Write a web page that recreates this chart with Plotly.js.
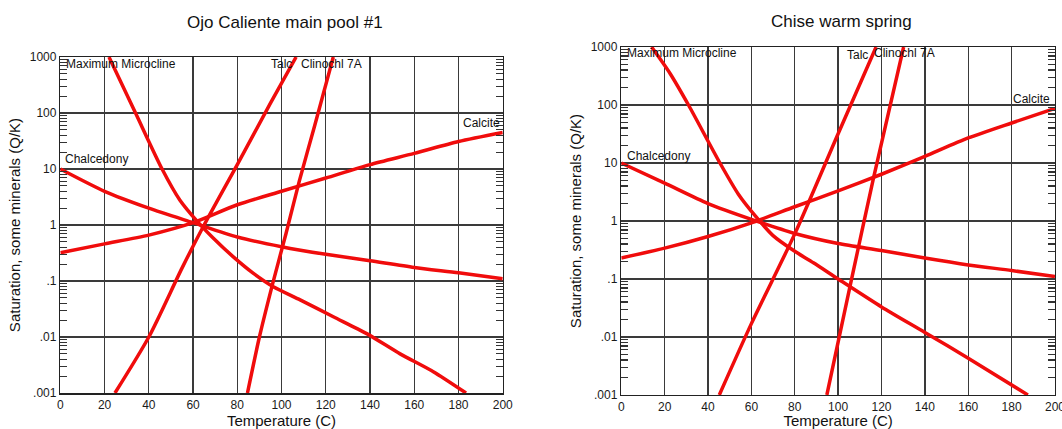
<!DOCTYPE html>
<html>
<head>
<meta charset="utf-8">
<script src="https://cdn.plot.ly/plotly-3.0.1.min.js"></script>
<style>html,body{margin:0;padding:0;background:#fff;}#chart{width:1062px;height:429px;}</style>
</head>
<body>
<div id="chart"></div>
<script>
// ---- Ojo Caliente main pool #1 ----
const pool_micro_T = [22, 34, 46, 54, 62, 69.2, 78.2, 87.3, 96.3, 108.4, 123.4, 138.5, 153.6, 168.6, 183.4];
const pool_micro_Q = [1000, 100, 10, 2.8, 1.15, 0.58, 0.27, 0.137, 0.079, 0.046, 0.023, 0.0115, 0.005, 0.0024, 0.001];
const pool_chalc_T = [0, 20, 40, 60, 80, 100, 120, 140, 160, 180, 200];
const pool_chalc_Q = [10, 4.0, 2.0, 1.1, 0.61, 0.41, 0.30, 0.23, 0.175, 0.14, 0.11];
const pool_calc_T = [0, 20, 40, 60, 80, 100, 120, 140, 160, 180, 200];
const pool_calc_Q = [0.32, 0.46, 0.66, 1.1, 2.3, 4.0, 6.9, 12, 19, 31, 45];
const pool_talc_T = [24.7, 40, 55, 65, 80, 95, 106.6];
const pool_talc_Q = [0.001, 0.01, 0.17, 1, 12, 150, 1000];
const pool_clino_T = [84.6, 90, 96, 102, 108, 115, 123.4];
const pool_clino_Q = [0.001, 0.01, 0.09, 0.7, 6, 60, 1000];

// ---- Chise warm spring ----
const chise_micro_T = [14, 22.5, 31, 45.5, 54, 62, 70, 80, 88.6, 100, 120, 140, 160, 187.5];
const chise_micro_Q = [1000, 350, 100, 10, 2.9, 1.2, 0.56, 0.30, 0.19, 0.10, 0.033, 0.012, 0.0043, 0.001];
const chise_chalc_T = [0, 20, 40, 60, 80, 100, 120, 140, 160, 180, 200];
const chise_chalc_Q = [10, 4.5, 2.0, 1.07, 0.61, 0.41, 0.31, 0.23, 0.175, 0.14, 0.11];
const chise_calc_T = [0, 20, 40, 60, 80, 100, 120, 140, 160, 180, 200];
const chise_calc_Q = [0.23, 0.34, 0.54, 0.93, 1.76, 3.3, 6.4, 13, 27, 49, 87];
const chise_talc_T = [45.2, 60, 80, 100, 117.5];
const chise_talc_Q = [0.001, 0.017, 0.6, 32, 1000];
const chise_clino_T = [94.8, 105.5, 116.3, 130.2];
const chise_clino_Q = [0.001, 0.075, 5.5, 1000];

// y tick labels: default log labels -> displayed text
const yLabelAlias = {'0.001': '.001', '0.01': '.01', '0.1': '.1'};
const xTickVals = [0, 20, 40, 60, 80, 100, 120, 140, 160, 180, 200];

const titles = ['Ojo Caliente main pool #1', 'Chise warm spring'];

// minor log tick positions (2..9 in every decade)
const minorVals = [];
for (let d = -3; d < 3; d++) for (let k = 2; k <= 9; k++) minorVals.push(k * Math.pow(10, d));

const RED = 'rgb(240,12,12)';
function tr(x, y, xa, ya) {
  return {x: x, y: y, xaxis: xa, yaxis: ya, mode: 'lines', type: 'scatter',
          line: {color: RED, width: 3.5, shape: 'spline', smoothing: 0.7}, hoverinfo: 'skip', showlegend: false};
}
const data = [
  tr(pool_micro_T, pool_micro_Q, 'x', 'y'),
  tr(pool_chalc_T, pool_chalc_Q, 'x', 'y'),
  tr(pool_calc_T, pool_calc_Q, 'x', 'y3'),
  tr(pool_talc_T, pool_talc_Q, 'x', 'y'),
  tr(pool_clino_T, pool_clino_Q, 'x', 'y'),
  tr(chise_micro_T, chise_micro_Q, 'x2', 'y2'),
  tr(chise_chalc_T, chise_chalc_Q, 'x2', 'y2'),
  tr(chise_calc_T, chise_calc_Q, 'x2', 'y4'),
  tr(chise_talc_T, chise_talc_Q, 'x2', 'y2'),
  tr(chise_clino_T, chise_clino_Q, 'x2', 'y2')
];

const FONT = 'Arial, "Liberation Sans", sans-serif';
function xax(domain, anchor) {
  return {domain: domain, anchor: anchor, range: [0, 200], tickmode: 'array', tickvals: xTickVals,
    showgrid: true, gridcolor: '#3a3a3a', gridwidth: 1.3, showline: true, linecolor: '#222', linewidth: 1.5,
    mirror: true, ticks: '', zeroline: false, ticklabeloverflow: 'allow',
    tickfont: {family: FONT, size: 12, color: '#1a1a1a'},
    title: {text: 'Temperature (C)', font: {family: FONT, size: 15, color: '#111'}}};
}
function yax(domain, anchor) {
  return {domain: domain, anchor: anchor, type: 'log', range: [-3, 3], tickmode: 'linear', tick0: 0, dtick: 1,
    exponentformat: 'none', labelalias: yLabelAlias,
    showgrid: true, gridcolor: '#3a3a3a', gridwidth: 1.3, showline: true, linecolor: '#222', linewidth: 1.5,
    mirror: true, ticks: '', zeroline: false, ticklabeloverflow: 'allow',
    tickfont: {family: FONT, size: 12, color: '#1a1a1a'},
    title: {text: 'Saturation, some minerals (Q/K)', font: {family: FONT, size: 15, color: '#111'}}};
}
function yminor(overlay, anchor) {
  return {overlaying: overlay, anchor: anchor, side: 'left', type: 'log', range: [-3, 3], tickmode: 'array', tickvals: minorVals,
    ticktext: minorVals.map(() => ''), showticklabels: true,
    ticks: 'inside', ticklen: 7, tickwidth: 1.2, tickcolor: '#333',
    showgrid: false, zeroline: false, showline: true, linecolor: '#222', linewidth: 1.5, mirror: 'allticks'};
}

function ann(text, x, y, xr, yr, xanchor) {
  return {text: text, x: x, y: y, xref: xr, yref: yr, xanchor: xanchor || 'left', yanchor: 'middle',
          showarrow: false, font: {family: FONT, size: 12, color: '#111'}};
}
const annotations = [
  {text: titles[0], x: 0.2684, y: 0.9464, xref: 'paper', yref: 'paper', xanchor: 'center', yanchor: 'middle', showarrow: false,
   font: {family: FONT, size: 17, color: '#111'}},
  {text: titles[1], x: 0.7928, y: 0.9499, xref: 'paper', yref: 'paper', xanchor: 'center', yanchor: 'middle', showarrow: false,
   font: {family: FONT, size: 17, color: '#111'}},
  ann('Maximum Microcline', 1.7, 2.88, 'x', 'y'),
  ann('Talc', 94.4, 2.88, 'x', 'y'),
  ann('Clinochl 7A', 107.9, 2.88, 'x', 'y'),
  ann('Calcite', 199.5, 1.82, 'x', 'y', 'right'),
  ann('Chalcedony', 1.2, 1.18, 'x', 'y'),
  ann('Maximum Microcline', 1.7, 2.89, 'x2', 'y2'),
  ann('Talc', 103.2, 2.86, 'x2', 'y2'),
  ann('Clinochl 7A', 115.7, 2.89, 'x2', 'y2'),
  ann('Calcite', 198.5, 2.10, 'x2', 'y2', 'right'),
  ann('Chalcedony', 1.7, 1.12, 'x2', 'y2')
];

const layout = {
  width: 1062, height: 429,
  margin: {l: 0, r: 0, t: 0, b: 0},
  paper_bgcolor: '#fff', plot_bgcolor: '#fff',
  showlegend: false,
  xaxis: xax([0.0568, 0.4734], 'y'),
  yaxis: yax([0.0839, 0.8671], 'x'),
  xaxis2: xax([0.5850, 0.9934], 'y2'),
  yaxis2: yax([0.0793, 0.8904], 'x2'),
  yaxis3: yminor('y', 'x'),
  yaxis4: yminor('y2', 'x2'),
  annotations: annotations
};

Plotly.newPlot('chart', data, layout, {displayModeBar: false, staticPlot: true});
</script>
</body>
</html>
